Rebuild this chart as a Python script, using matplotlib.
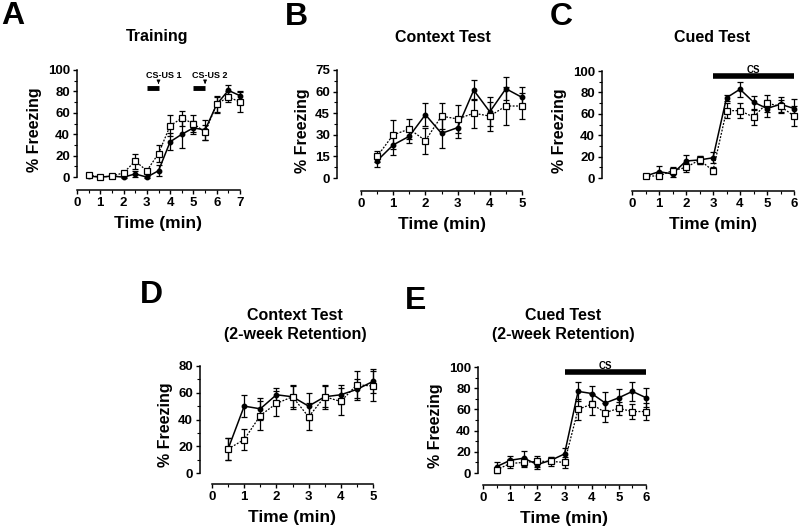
import numpy as np
import matplotlib
matplotlib.use('Agg')
import matplotlib.pyplot as plt
from matplotlib.ticker import FixedLocator

plt.rcParams['font.family'] = ['Liberation Sans', 'DejaVu Sans']
plt.rcParams['font.weight'] = 'bold'

# Panel A - Training
a_t = [0.5, 1, 1.5, 2, 2.5, 3, 3.5, 4, 4.5, 5, 5.5, 6, 6.5, 7]
a_fill = [1, 0, 1, 0, 3, 0, 6, 33, 40, 46, 44, 68, 81, 76]
a_fill_err = [1, 1, 1, 1, 3, 1, 5, 8, 13, 6, 9, 7, 5, 4]
a_open = [2, 0, 1, 4, 15, 6, 22, 48, 55, 50, 42, 68, 75, 70]
a_open_err = [1, 1, 1, 2, 7, 2, 8, 10, 7, 8, 7, 8, 5, 9]

# Panel B - Context Test
b_t = [0.5, 1, 1.5, 2, 2.5, 3, 3.5, 4, 4.5, 5]
b_fill = [12, 23, 29, 44, 31, 35, 61, 46, 62, 56]
b_fill_err = [4, 7, 5, 8, 10, 7, 7, 10, 8, 7]
b_open = [15, 30, 34, 26, 43, 41, 45, 43, 50, 50]
b_open_err = [4, 10, 7, 9, 9, 10, 10, 10, 13, 9]

# Panel C - Cued Test
c_t = [0.5, 1, 1.5, 2, 2.5, 3, 3.5, 4, 4.5, 5, 5.5, 6]
c_fill = [2, 6, 4, 16, 17, 19, 75, 83, 71, 65, 69, 65]
c_fill_err = [1, 5, 3, 6, 4, 5, 3, 7, 6, 8, 7, 9]
c_open = [2, 2, 7, 10, 17, 7, 63, 63, 57, 70, 67, 58]
c_open_err = [1, 2, 3, 4, 4, 3, 7, 7, 7, 8, 6, 9]

# Panel D - Context Test (2-week Retention)
d_t = [0.5, 1, 1.5, 2, 2.5, 3, 3.5, 4, 4.5, 5]
d_fill = [18, 50, 48, 58.5, 57, 50, 57, 58.5, 62.5, 68.5]
d_fill_err = [8, 8, 8, 5, 8, 10, 8, 7, 8, 9]
d_open = [18, 25, 43, 52, 57, 42, 57, 53.5, 66, 65]
d_open_err = [8, 8, 11, 9, 9, 10, 9, 10, 10, 11]

# Panel E - Cued Test (2-week Retention)
e_t = [0.5, 1, 1.5, 2, 2.5, 3, 3.5, 4, 4.5, 5, 5.5, 6]
e_fill = [6, 12, 14, 8, 12, 18, 77, 75, 66, 71, 77, 71]
e_fill_err = [4, 4, 7, 4, 3, 6, 9, 7, 10, 8, 9, 9]
e_open = [3, 9, 10, 11, 11, 10, 60, 65, 57, 61, 58, 58]
e_open_err = [3, 4, 4, 5, 4, 5, 10, 10, 9, 6, 7, 8]

W, H = 800, 529
fig = plt.figure(figsize=(W / 100, H / 100), dpi=100)


def make_axes(x0, x1, ytop, yaxis, yspine_x, xmax, ymin, ymax, ymajor, yminor):
    ax = fig.add_axes([x0 / W, 1 - yaxis / H, (x1 - x0) / W, (yaxis - ytop) / H])
    ax.set_xlim(0, xmax)
    ax.set_ylim(ymin, ymax)
    for s in ['top', 'right']:
        ax.spines[s].set_visible(False)
    ax.spines['left'].set_bounds(0, ymax)
    ax.spines['bottom'].set_bounds(0, xmax)
    ax.spines['left'].set_position(('outward', (x0 - yspine_x) * 0.72))
    for s in ['left', 'bottom']:
        ax.spines[s].set_linewidth(1.1)
    ax.xaxis.set_major_locator(FixedLocator(np.arange(0, xmax + 0.01, 1)))
    ax.xaxis.set_minor_locator(FixedLocator(np.arange(0, xmax + 0.01, 0.5)))
    ax.yaxis.set_major_locator(FixedLocator(np.arange(0, ymax + 0.01, ymajor)))
    ax.yaxis.set_minor_locator(FixedLocator(np.arange(0, ymax + 0.01, yminor)))
    ax.tick_params(which='major', direction='out', length=3, width=1, labelsize=9.5, pad=2)
    ax.tick_params(which='minor', direction='out', length=2, width=0.8)
    ax.patch.set_visible(False)
    for lab in ax.get_xticklabels() + ax.get_yticklabels():
        lab.set_fontweight('bold')
    ax.set_xlabel('Time (min)', fontsize=12.5, fontweight='bold', labelpad=5)
    ax.set_ylabel('% Freezing', fontsize=11.5, fontweight='bold', labelpad=4)
    return ax


def draw(ax, t, fill, fill_err, opn, opn_err):
    ax.errorbar(t, fill, yerr=fill_err, color='black', lw=1.1, ls='-',
                marker='o', ms=3.2, mfc='black', mec='black',
                elinewidth=0.9, capsize=2.2, capthick=0.9, zorder=3, clip_on=False)
    ax.errorbar(t, opn, yerr=opn_err, color='black', lw=0.9, ls=(0, (1.5, 1.2)),
                marker='s', ms=4.2, mfc='white', mec='black', mew=0.9,
                elinewidth=0.9, capsize=2.2, capthick=0.9, zorder=4, clip_on=False)


def cs_bar(ax, start, end, y, label):
    ax.plot([start, end], [y, y], color='black', lw=4, solid_capstyle='butt', clip_on=False)
    ax.text((start + end) / 2, y + 1, label, ha='center', va='bottom',
            fontsize=7, fontweight='bold')


# A
axA = make_axes(77, 240, 70, 190, 77, 7, -12, 100, 20, 10)
draw(axA, a_t, a_fill, a_fill_err, a_open, a_open_err)
for s, lab in [(3, 'CS-US 1'), (5, 'CS-US 2')]:
    axA.plot([s, s + 0.5], [83, 83], color='black', lw=3.5, solid_capstyle='butt')
    axA.annotate('', xy=(s + 0.5, 84.5), xytext=(s + 0.5, 91),
                 arrowprops=dict(arrowstyle='-|>', color='black', lw=0.7,
                                 mutation_scale=5))
    axA.text(s - 0.05, 91, lab, ha='left', va='bottom', fontsize=6.5, fontweight='bold')

# B
axB = make_axes(361, 522, 70, 191, 337, 5, -9, 75, 15, 7.5)
draw(axB, b_t, b_fill, b_fill_err, b_open, b_open_err)

# C
axC = make_axes(632, 794, 71, 191, 602, 6, -12, 100, 20, 10)
draw(axC, c_t, c_fill, c_fill_err, c_open, c_open_err)
cs_bar(axC, 3, 6, 95, 'CS')

# D
axD = make_axes(212, 373, 366, 484, 200, 5, -8.2, 80, 20, 10)
draw(axD, d_t, d_fill, d_fill_err, d_open, d_open_err)

# E
axE = make_axes(483, 646, 367, 485, 478, 6, -11.3, 100, 20, 10)
draw(axE, e_t, e_fill, e_fill_err, e_open, e_open_err)
cs_bar(axE, 3, 6, 95, 'CS')


# titles and panel letters (pixel positions)
def ftext(x, y, s, size, **kw):
    fig.text(x / W, 1 - y / H, s, fontsize=size, fontweight='bold', **kw)


ftext(157, 37, 'Training', 11.5, ha='center', va='center')
ftext(443, 37, 'Context Test', 11.5, ha='center', va='center')
ftext(712, 37, 'Cued Test', 11.5, ha='center', va='center')
ftext(295, 315, 'Context Test', 11.5, ha='center', va='center')
ftext(295, 335, '(2-week Retention)', 11.5, ha='center', va='center')
ftext(563, 315, 'Cued Test', 11.5, ha='center', va='center')
ftext(563, 335, '(2-week Retention)', 11.5, ha='center', va='center')

ftext(1, 16, 'A', 23, ha='left', va='center')
ftext(285, 17, 'B', 23, ha='left', va='center')
ftext(550, 17, 'C', 23, ha='left', va='center')
ftext(140, 295, 'D', 23, ha='left', va='center')
ftext(405, 301, 'E', 23, ha='left', va='center')

fig.savefig('out.png', dpi=100)
